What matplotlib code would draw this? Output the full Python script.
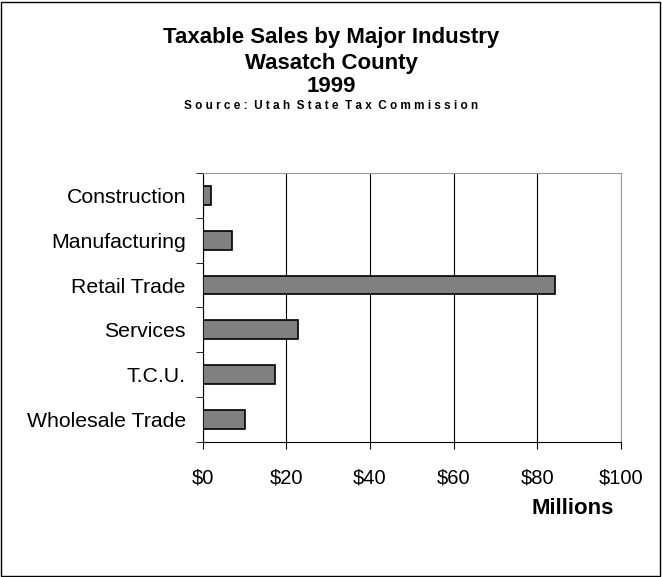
import matplotlib
matplotlib.use("Agg")
import matplotlib.pyplot as plt
from matplotlib.patches import Rectangle

categories = ["Construction", "Manufacturing", "Retail Trade", "Services", "T.C.U.", "Wholesale Trade"]
values = [1.9, 7.1, 84.3, 22.9, 17.2, 10.1]
xticks = [0, 20, 40, 60, 80, 100]
xlabels = ["$0", "$20", "$40", "$60", "$80", "$100"]

plt.rcParams['font.family'] = ['Liberation Sans', 'DejaVu Sans']
fig = plt.figure(figsize=(6.62, 5.77), dpi=100)
fig.patches.append(Rectangle((0.002, 0.002), 0.995, 0.995, transform=fig.transFigure,
                             fill=False, edgecolor='black', linewidth=1))
ax = fig.add_axes([0.306, 0.2345, 0.632, 0.4655])
y = list(range(len(categories)))
ax.barh(y, values, height=0.42, color='#808080', edgecolor='black', linewidth=1.2, zorder=3)
ax.set_ylim(len(categories) - 0.5, -0.5)
ax.set_xlim(0, 100)
ax.set_xticks(xticks)
ax.set_xticklabels(xlabels, fontsize=14.5)
ax.set_yticks(y)
ax.set_yticklabels(categories, fontsize=15.3)
ax.tick_params(axis='y', length=0, pad=12)
ax.set_yticks([i + 0.5 for i in range(-1, len(categories))], minor=True)
ax.tick_params(axis='y', which='minor', length=5, direction='out')
ax.tick_params(axis='x', length=5, direction='out', pad=14)
ax.grid(axis='x', color='black', linewidth=0.8, zorder=0)
for s in ['top', 'right']:
    ax.spines[s].set_color('#999999')
fig.text(573 / 662, 1 - 508 / 577, "Millions", ha='center', va='center', fontsize=16, fontweight='bold')

fig.text(0.5, 1 - 38 / 577, "Taxable Sales by Major Industry", ha='center', va='center', fontsize=16, fontweight='bold')
fig.text(0.5, 1 - 63 / 577, "Wasatch County", ha='center', va='center', fontsize=16, fontweight='bold')
fig.text(0.5, 1 - 86 / 577, "1999", ha='center', va='center', fontsize=16, fontweight='bold')
fig.text(0.5, 1 - 106 / 577, "S o u r c e :  U t a h  S t a t e  T a x  C o m m i s s i o n", ha='center', va='center', fontsize=8.5, fontweight='bold')
fig.savefig("out.png", dpi=100)
